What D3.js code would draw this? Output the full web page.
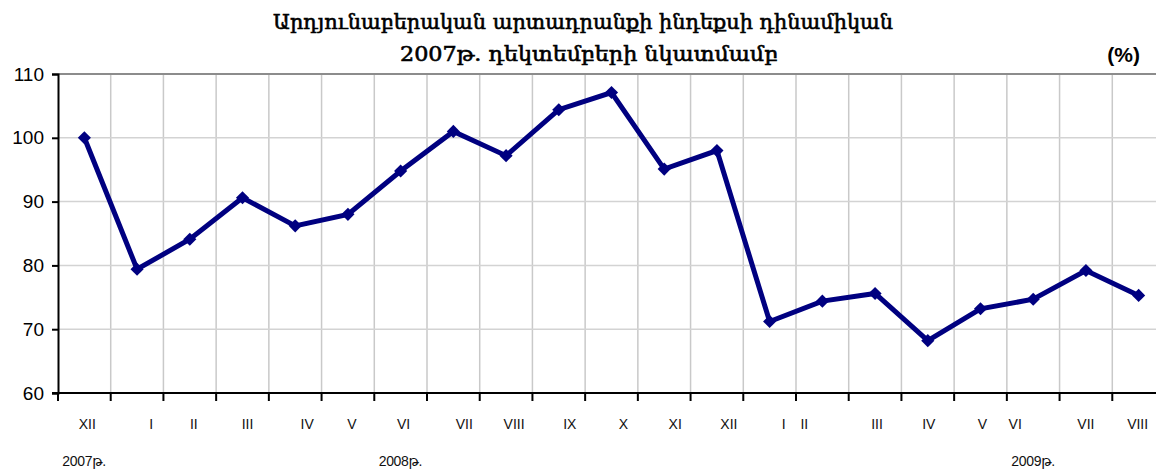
<!DOCTYPE html>
<html>
<head>
<meta charset="utf-8">
<script src="https://cdn.jsdelivr.net/npm/d3@7"></script>
<style>
  body { margin: 0; background: #fff; }
  svg { display: block; }
</style>
</head>
<body>
<div id="chart"></div>
<script>
// ### Data ###
var months   = ["XII","I","II","III","IV","V","VI","VII","VIII","IX","X","XI","XII",
                "I","II","III","IV","V","VI","VII","VIII"];
var values   = [100.0, 79.4, 84.1, 90.6, 86.2, 88.0, 94.8, 101.0, 97.2, 104.4, 107.1, 95.1, 98.0,
                71.2, 74.4, 75.6, 68.2, 73.2, 74.7, 79.2, 75.3];
var years    = [{idx: 0, text: "2007թ."}, {idx: 6, text: "2008թ."}, {idx: 18, text: "2009թ."}];
var yTicks   = [60, 70, 80, 90, 100, 110];
var titleLines = ["Արդյունաբերական արտադրանքի ինդեքսի դինամիկան",
                  "2007թ. դեկտեմբերի նկատմամբ"];
var unitText = "(%)";

// ### Layout (label nudges, px) ###
var labelShift = [3, 14, 4, 5, 12, 4, 3, 11, 8, 11, 12, 11, 12, 14, -18, 2, 1, 2, -18, 0, -1];

var W = 1156, H = 470;
var margin = {top: 74, left: 58, bottom: 77};
var plotRight = 1165;
var height = H - margin.top - margin.bottom;

var svg = d3.select("#chart").append("svg")
    .attr("width", W)
    .attr("height", H);

var x = d3.scaleBand()
    .domain(d3.range(months.length))
    .range([margin.left, plotRight]);

var y = d3.scaleLinear()
    .domain([60, 110])
    .range([margin.top + height, margin.top]);

// gridlines
var grid = svg.append("g");
grid.selectAll(".vgrid")
    .data(d3.range(1, months.length))
    .enter().append("line")
    .attr("x1", function(d) { return x(d); })
    .attr("x2", function(d) { return x(d); })
    .attr("y1", y(110))
    .attr("y2", y(60))
    .style("stroke", "#c9c9c9")
    .style("stroke-width", 1.5);

grid.selectAll(".hgrid")
    .data(yTicks.filter(function(d) { return d > 60 && d < 110; }))
    .enter().append("line")
    .attr("x1", margin.left)
    .attr("x2", plotRight)
    .attr("y1", function(d) { return y(d); })
    .attr("y2", function(d) { return y(d); })
    .style("stroke", "#d3d3d3")
    .style("stroke-width", 1.5);

// top border
svg.append("line")
    .attr("x1", margin.left).attr("x2", plotRight)
    .attr("y1", y(110)).attr("y2", y(110))
    .style("stroke", "#8c8c8c")
    .style("stroke-width", 2);

// y axis
var yAxis = svg.append("g")
    .attr("transform", "translate(" + margin.left + ",0)")
    .call(d3.axisLeft(y).tickValues(yTicks).tickSize(6).tickPadding(8));
yAxis.select(".domain").style("stroke", "#000").style("stroke-width", 2);
yAxis.selectAll(".tick line").style("stroke", "#000").style("stroke-width", 2);
yAxis.selectAll("text")
    .style("font", "19px 'Liberation Sans', Arial, sans-serif")
    .style("fill", "#000");

// x axis: ticks at band boundaries
var xAxisG = svg.append("g");
xAxisG.append("line")
    .attr("x1", margin.left - 6).attr("x2", plotRight)
    .attr("y1", y(60)).attr("y2", y(60))
    .style("stroke", "#000").style("stroke-width", 2);
xAxisG.selectAll(".xtick")
    .data(d3.range(months.length))
    .enter().append("line")
    .attr("x1", function(d) { return x(d); })
    .attr("x2", function(d) { return x(d); })
    .attr("y1", y(60))
    .attr("y2", y(60) + 8)
    .style("stroke", "#000").style("stroke-width", 2);

xAxisG.selectAll(".month")
    .data(months)
    .enter().append("text")
    .attr("x", function(d, i) { return x(i) + x.bandwidth() / 2 + labelShift[i]; })
    .attr("y", 429)
    .attr("text-anchor", "middle")
    .style("font", "14px 'Liberation Sans', Arial, sans-serif")
    .style("fill", "#111")
    .text(function(d) { return d; });

xAxisG.selectAll(".year")
    .data(years)
    .enter().append("text")
    .attr("x", function(d) { return x(d.idx) + x.bandwidth() / 2 - 22; })
    .attr("y", 466)
    .style("font", "14px 'Liberation Sans', 'DejaVu Sans', Arial, sans-serif")
    .style("letter-spacing", "-0.3px")
    .style("fill", "#111")
    .text(function(d) { return d.text; });

// line + markers
var line = d3.line()
    .x(function(d, i) { return x(i) + x.bandwidth() / 2; })
    .y(function(d) { return y(d); });

svg.append("path")
    .datum(values)
    .attr("d", line)
    .style("fill", "none")
    .style("stroke", "#000080")
    .style("stroke-width", 5)
    .style("stroke-linejoin", "miter");

svg.selectAll(".pt")
    .data(values)
    .enter().append("path")
    .attr("d", d3.symbol().type(d3.symbolDiamond2).size(110))
    .attr("transform", function(d, i) {
        return "translate(" + (x(i) + x.bandwidth() / 2) + "," + y(d) + ")";
    })
    .style("fill", "#000080");

// title
var titleYs = [29, 61];
var titleWidths = [620, 378];
svg.selectAll(".title")
    .data(titleLines)
    .enter().append("text")
    .attr("x", function(d, i) { return i === 0 ? 583 : 589; })
    .attr("y", function(d, i) { return titleYs[i]; })
    .attr("text-anchor", "middle")
    .attr("textLength", function(d, i) { return titleWidths[i]; })
    .attr("lengthAdjust", "spacingAndGlyphs")
    .style("font", "21px 'DejaVu Serif', serif")
    .style("fill", "#000")
    .style("stroke", "#000")
    .style("stroke-width", 0.6)
    .text(function(d) { return d; });

svg.append("text")
    .attr("x", 1140)
    .attr("y", 62)
    .attr("text-anchor", "end")
    .style("font", "bold 21px 'Liberation Sans', Arial, sans-serif")
    .style("fill", "#000")
    .text(unitText);
</script>
</body>
</html>
